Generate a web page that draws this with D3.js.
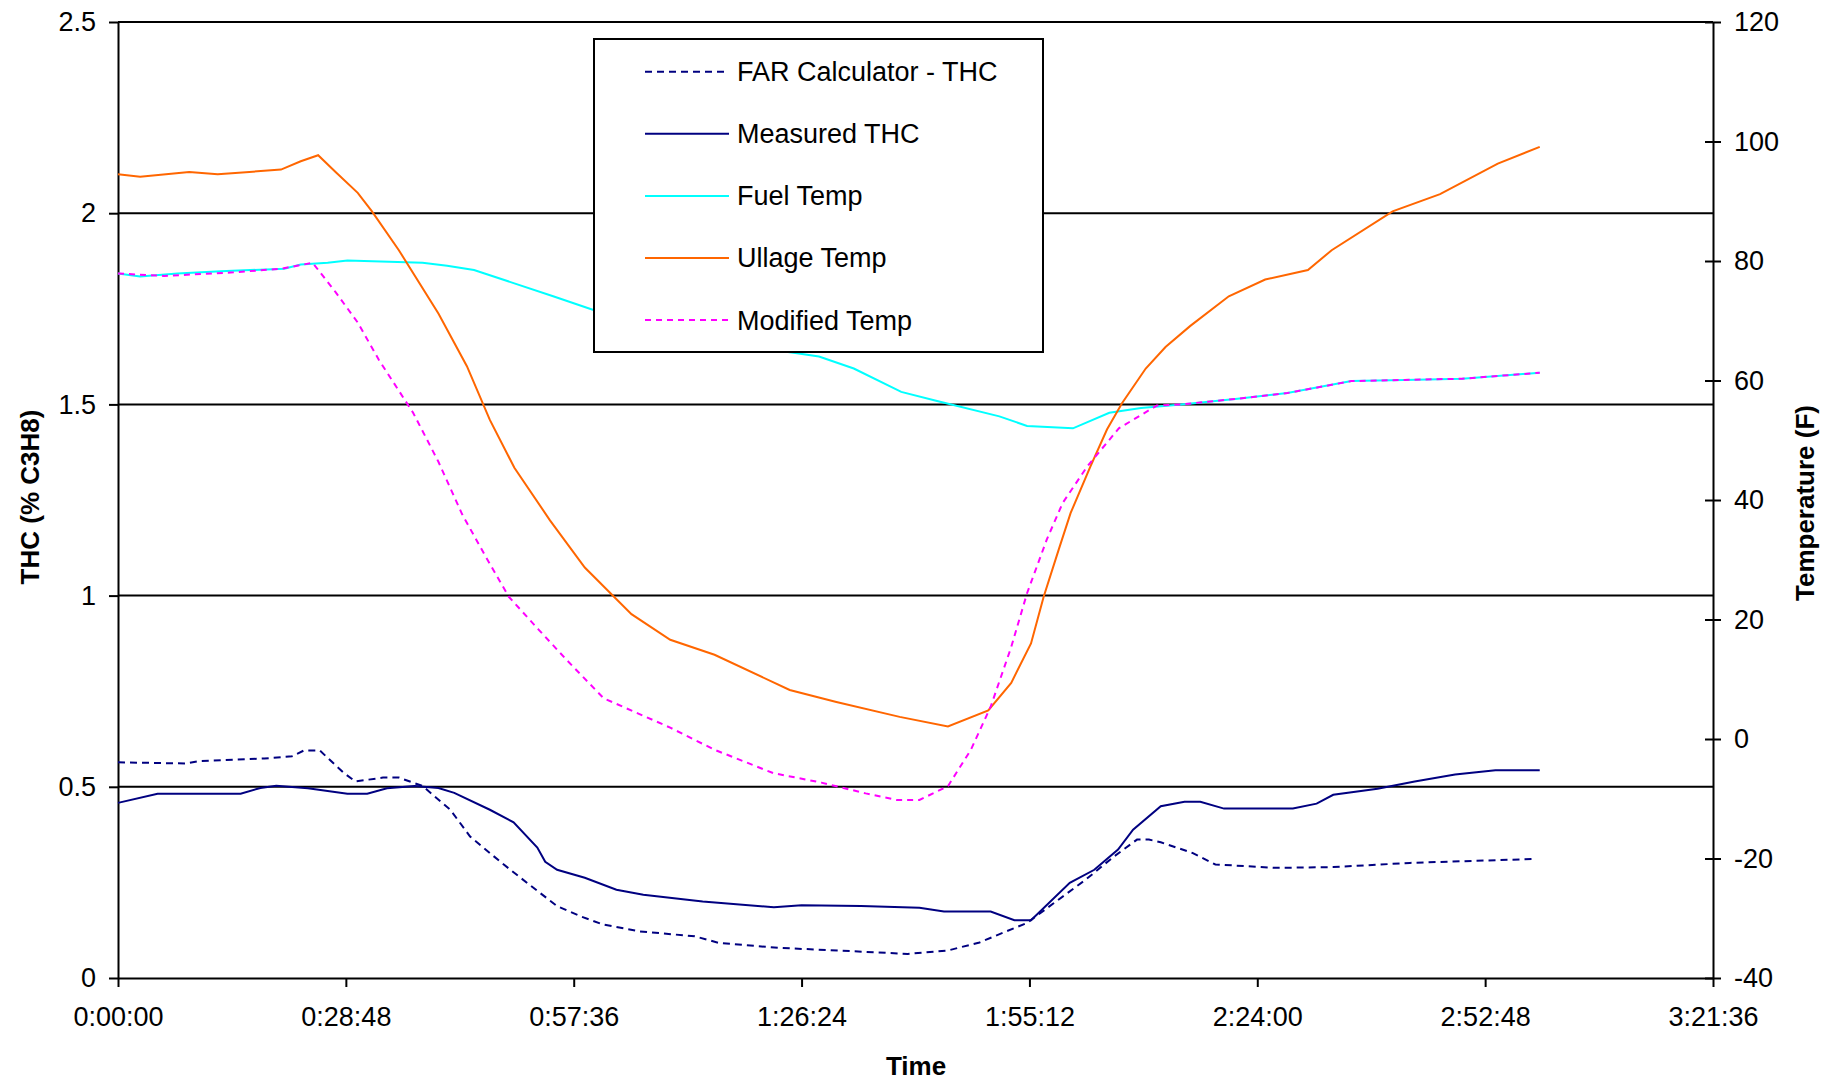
<!DOCTYPE html>
<html>
<head>
<meta charset="utf-8">
<script src="https://cdn.jsdelivr.net/npm/d3@7/dist/d3.min.js"></script>
<style>
body { margin: 0; background: #fff; }
text { font-family: "Liberation Sans", Arial, sans-serif; fill: #000; }
</style>
</head>
<body>
<script>
/*All times are minutes from the start of the run*/
var far_time = [0, 8.6, 10.1, 18.5, 22.0, 23.5, 25.5, 28.5, 30.0, 33.5, 35.5, 38.5, 42.0, 44.5, 48.5, 52.0, 55.5, 58.5, 61.3, 65.9, 72.9, 75.9, 83.4, 92.9, 99.8, 104.9, 108.9, 111.8, 114.9, 118.3, 122.3, 125.9, 128.8, 130.3, 131.8, 135.8, 138.7, 146.4, 153.6, 163.3, 178.7]
var far_thc = [0.564, 0.561, 0.567, 0.574, 0.58, 0.595, 0.595, 0.537, 0.514, 0.524, 0.524, 0.502, 0.44, 0.37, 0.301, 0.244, 0.188, 0.161, 0.14, 0.122, 0.109, 0.092, 0.079, 0.07, 0.063, 0.072, 0.093, 0.118, 0.144, 0.196, 0.257, 0.318, 0.362, 0.362, 0.355, 0.327, 0.297, 0.288, 0.29, 0.301, 0.311]

var meas_time = [0, 5.0, 15.5, 18.0, 20.0, 24.0, 29.0, 31.5, 34.0, 37.5, 40.5, 42.5, 47.0, 50.0, 53.0, 54.0, 55.5, 59.0, 63.0, 66.4, 73.9, 82.9, 86.4, 93.9, 101.3, 104.4, 110.3, 113.3, 115.4, 120.3, 123.4, 126.4, 128.3, 131.8, 134.8, 136.8, 139.8, 148.5, 151.5, 153.6, 159.2, 163.9, 169.0, 174.1, 179.7]
var meas_thc = [0.458, 0.482, 0.482, 0.497, 0.503, 0.496, 0.482, 0.482, 0.496, 0.502, 0.497, 0.484, 0.44, 0.407, 0.341, 0.304, 0.283, 0.262, 0.231, 0.218, 0.200, 0.185, 0.19, 0.188, 0.184, 0.174, 0.174, 0.151, 0.151, 0.249, 0.283, 0.336, 0.388, 0.449, 0.461, 0.461, 0.443, 0.443, 0.456, 0.479, 0.495, 0.514, 0.532, 0.543, 0.543]

var fuel_time = [0, 2.8, 7.5, 13.0, 21.0, 23.1, 26.5, 29.0, 38.5, 41.6, 45.0, 50.0, 55.0, 60.1, 67.9, 75.3, 81.2, 85.6, 88.6, 93.0, 99.0, 103.4, 111.4, 114.9, 120.7, 125.3, 129.3, 134.4, 141.8, 147.8, 155.9, 162.6, 169.9, 179.7]
var fuel_temp = [77.9, 77.4, 77.9, 78.3, 78.7, 79.4, 79.7, 80.1, 79.7, 79.2, 78.5, 76.3, 74.1, 71.8, 69.3, 66.9, 65.4, 64.6, 64.0, 62.0, 58.1, 56.6, 54.0, 52.4, 52.0, 54.6, 55.4, 56.0, 57.0, 57.9, 59.9, 60.1, 60.3, 61.3]

var ullage_time = [0, 2.8, 9.0, 12.6, 16.6, 20.6, 23.1, 25.3, 27.5, 30.3, 32.1, 35.5, 40.5, 44.1, 47.0, 50.1, 54.6, 59.0, 64.9, 69.8, 75.4, 84.9, 90.8, 98.8, 104.9, 110.0, 112.9, 115.4, 117.0, 118.9, 120.4, 122.9, 125.0, 126.9, 129.9, 132.4, 135.5, 140.4, 145.0, 150.4, 153.4, 161.1, 167.1, 174.4, 179.7]
var ullage_temp = [94.5, 94.1, 94.9, 94.5, 94.9, 95.3, 96.7, 97.7, 94.9, 91.4, 88.3, 81.8, 71.2, 62.4, 53.4, 45.4, 36.6, 28.7, 20.9, 16.6, 14.1, 8.2, 6.2, 3.7, 2.1, 4.8, 9.4, 16.0, 23.8, 31.7, 37.8, 45.6, 51.8, 56.2, 62.0, 65.6, 69.1, 74.1, 76.9, 78.5, 81.8, 88.3, 91.2, 96.3, 99.1]

var mod_time = [0, 5.8, 14.6, 20.6, 24.6, 27.5, 30.3, 33.0, 37.3, 40.5, 43.5, 46.4, 49.4, 53.1, 56.8, 61.4, 65.7, 69.8, 75.4, 82.8, 88.9, 94.5, 98.4, 101.3, 104.9, 107.8, 110.3, 112.9, 114.9, 117.4, 119.4, 122.5, 126.5, 131.3, 134.4, 141.8, 147.8, 155.9, 162.6, 169.9, 179.7]
var mod_temp = [77.9, 77.5, 78.1, 78.7, 79.7, 74.8, 69.7, 63.4, 54.6, 46.4, 37.6, 30.7, 23.8, 18.4, 13.1, 6.8, 4.3, 1.9, -1.8, -5.7, -7.3, -9.1, -10.2, -10.2, -7.9, -1.8, 5.4, 15.4, 24.4, 33.4, 39.5, 45.6, 52.0, 55.8, 56.0, 57.0, 57.9, 59.9, 60.1, 60.3, 61.3]

var time_ticks = [0, 28.8, 57.6, 86.4, 115.2, 144, 172.8, 201.6]
var thc_ticks = [0, 0.5, 1, 1.5, 2, 2.5]
var temp_ticks = [-40, -20, 0, 20, 40, 60, 80, 100, 120]

var legend_names = ["FAR Calculator - THC", "Measured THC", "Fuel Temp", "Ullage Temp", "Modified Temp"]

var canvas_width = 1835, canvas_height = 1082
var plot_left = 118, plot_right = 1713, plot_top = 22, plot_bottom = 978

var canvas = d3.select("body").append("svg")
	.attr("width", canvas_width)
	.attr("height", canvas_height)
	.attr("class", "canvas")

var xScale = d3.scaleLinear().domain([0, 201.6]).range([plot_left, plot_right])
var yScale = d3.scaleLinear().domain([0, 2.5]).range([plot_bottom, plot_top])
var tempScale = d3.scaleLinear().domain([-40, 120]).range([plot_bottom, plot_top])

/*turn minutes into h:mm:ss*/
function hms(min){
	var s = Math.round(min * 60)
	var h = Math.floor(s / 3600)
	var m = Math.floor((s % 3600) / 60)
	var sec = s % 60
	return h + ":" + d3.format("02")(m) + ":" + d3.format("02")(sec)
}

/*gridlines first so the lines sit on top*/
canvas.append("g").selectAll("line")
	.data(thc_ticks.filter(function(d){return d > 0}))
	.enter().append("line")
	.attr("x1", plot_left).attr("x2", plot_right)
	.attr("y1", function(d){return yScale(d)})
	.attr("y2", function(d){return yScale(d)})
	.attr("stroke", "#000")
	.attr("stroke-width", 2)

function styleAxis(g){
	g.attr("font-size", 27).attr("font-family", "'Liberation Sans', Arial, sans-serif")
	g.select(".domain").attr("stroke", "#000").attr("stroke-width", 2)
	g.selectAll(".tick line").attr("stroke", "#000").attr("stroke-width", 2)
	g.selectAll(".tick text").attr("fill", "#000")
}

var yAxis = d3.axisLeft(yScale).tickValues(thc_ticks).tickSize(9).tickSizeOuter(0).tickPadding(13)
	.tickFormat(function(d){return String(d)})
canvas.append("g").attr("transform", "translate(" + plot_left + ",0)").call(yAxis).call(styleAxis)

var tempAxis = d3.axisRight(tempScale).tickValues(temp_ticks).tickSize(8).tickSizeOuter(0).tickPadding(13)
	.tickFormat(function(d){return String(d)})
var tAxis = canvas.append("g").attr("transform", "translate(" + plot_right + ",0)").call(tempAxis).call(styleAxis)
tAxis.selectAll(".tick line").attr("x1", -8).attr("x2", 8)

var xAxis = d3.axisBottom(xScale).tickValues(time_ticks).tickSize(9).tickSizeOuter(0).tickPadding(20)
	.tickFormat(hms)
canvas.append("g").attr("transform", "translate(0," + plot_bottom + ")").call(xAxis).call(styleAxis)

/*axis titles*/
canvas.append("text")
	.attr("transform", "translate(39,497) rotate(-90)")
	.attr("text-anchor", "middle")
	.attr("font-size", 26).attr("font-weight", "bold")
	.text("THC (% C3H8)")

canvas.append("text")
	.attr("transform", "translate(1814,503) rotate(-90)")
	.attr("text-anchor", "middle")
	.attr("font-size", 26).attr("font-weight", "bold")
	.text("Temperature (F)")

canvas.append("text")
	.attr("x", 916).attr("y", 1075)
	.attr("text-anchor", "middle")
	.attr("font-size", 26).attr("font-weight", "bold")
	.text("Time")

/*series, same order as excel draws them*/
var series = [
	{name: legend_names[0], t: far_time, v: far_thc, scale: yScale, colour: "#000080", dash: "7,5"},
	{name: legend_names[1], t: meas_time, v: meas_thc, scale: yScale, colour: "#000080", dash: null},
	{name: legend_names[2], t: fuel_time, v: fuel_temp, scale: tempScale, colour: "#00FFFF", dash: null},
	{name: legend_names[3], t: ullage_time, v: ullage_temp, scale: tempScale, colour: "#FF6600", dash: null},
	{name: legend_names[4], t: mod_time, v: mod_temp, scale: tempScale, colour: "#FF00FF", dash: "6,5"}
]

series.forEach(function(s){
	var pts = s.t.map(function(t, i){return [t, s.v[i]]})
	var line = d3.line()
		.x(function(d){return xScale(d[0])})
		.y(function(d){return s.scale(d[1])})
	canvas.append("path")
		.datum(pts)
		.attr("d", line)
		.attr("fill", "none")
		.attr("stroke", s.colour)
		.attr("stroke-width", 2)
		.attr("stroke-dasharray", s.dash)
})

/*legend box covers the lines underneath*/
var legend = canvas.append("g").attr("class", "legend")
legend.append("rect")
	.attr("x", 594).attr("y", 39)
	.attr("width", 449).attr("height", 313)
	.attr("fill", "#fff")
	.attr("stroke", "#000")
	.attr("stroke-width", 2)

var rows = legend.selectAll(".row")
	.data(series)
	.enter().append("g")
	.attr("transform", function(d, i){return "translate(0," + (71.7 + i * 62.1) + ")"})

rows.append("line")
	.attr("x1", 645).attr("x2", 729)
	.attr("stroke", function(d){return d.colour})
	.attr("stroke-width", 2)
	.attr("stroke-dasharray", function(d){return d.dash})

rows.append("text")
	.attr("x", 737)
	.attr("dy", "0.35em")
	.attr("font-size", 27)
	.text(function(d){return d.name})
</script>
</body>
</html>
